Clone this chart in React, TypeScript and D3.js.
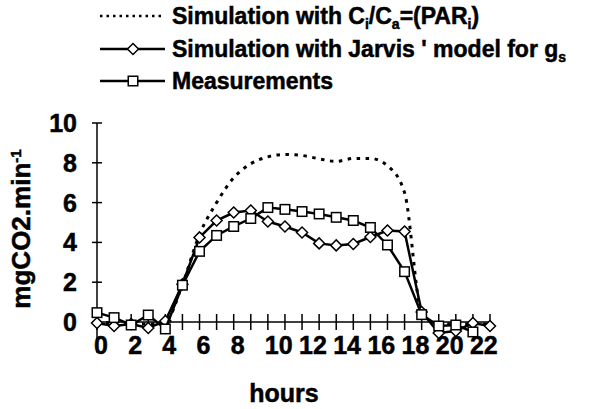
import React from "react";
import * as d3 from "d3";

const hours = d3.range(0, 24);
const xTickLabels = [0, 2, 4, 6, 8, 10, 12, 14, 16, 18, 20, 22];
const yTicks = [0, 2, 4, 6, 8, 10];

// Simulation with Ci/Ca=(PARi) (dotted)
const simCiCa = [0, -0.05, -0.1, -0.1, 0, 1.9, 4.4, 6.0, 7.25, 7.95, 8.3, 8.42, 8.37, 8.2, 8.07, 8.22, 8.22, 7.85, 6.5, 0.5, -0.1, -0.1, -0.1, -0.1];
// Simulation with Jarvis' model (diamonds), hours 0..23
const simJarvis = [-0.05, -0.2, -0.1, -0.3, 0.05, 1.9, 4.25, 5.1, 5.5, 5.6, 5.05, 4.8, 4.5, 3.95, 3.85, 3.92, 4.27, 4.6, 4.55, 0.5, -0.55, -0.45, -0.05, -0.2];
// Measurements (squares), hours 0..22
const measurements = [0.47, 0.22, -0.15, 0.35, -0.35, 1.85, 3.55, 4.35, 4.8, 5.2, 5.75, 5.66, 5.55, 5.43, 5.26, 5.1, 4.75, 3.87, 2.53, 0.37, -0.2, -0.15, -0.5];

const FONT = "'Liberation Sans', Arial, Helvetica, sans-serif";

export default function App() {
  const W = 610, H = 409;
  const x = d3.scaleLinear().domain([0, 23]).range([97, 490]);
  const y = d3.scaleLinear().domain([0, 10]).range([322, 123]);

  const linePts = (vals: number[]) => vals.map((v, i) => [hours[i], v] as [number, number]);
  const straight = d3.line<[number, number]>().x(d => x(d[0])).y(d => y(d[1]));
  const smooth = d3.line<[number, number]>().x(d => x(d[0])).y(d => y(d[1])).curve(d3.curveMonotoneX);

  const diamond = (cx: number, cy: number, r: number) =>
    `M${cx},${cy - r}L${cx + r},${cy}L${cx},${cy + r}L${cx - r},${cy}Z`;

  const DR = 5.5;
  const SQ = 9.5;

  const legendX1 = 100, legendX2 = 165, legendMid = 133, legendText = 172;
  const legendRows = [16, 49, 81];
  const txtStroke = { stroke: "#000", strokeWidth: 0.5 };

  return (
    <svg width={W} height={H} style={{ display: "block", position: "absolute", left: 0, top: 0 }} fontFamily={FONT}>
      <rect x={0} y={0} width={W} height={H} fill="#fff" />

      {/* Legend */}
      <g fontWeight="bold" fontSize={23} fill="#000">
        <line x1={legendX1} x2={legendX2} y1={legendRows[0]} y2={legendRows[0]} stroke="#000" strokeWidth={2.5} strokeDasharray="2.5 4" />
        <text x={legendText} y={legendRows[0] + 8} {...txtStroke}>
          Simulation with C<tspan dy={5} fontSize={14}>i</tspan><tspan dy={-5}>/C</tspan><tspan dy={5} fontSize={14}>a</tspan><tspan dy={-5}>=(PAR</tspan><tspan dy={5} fontSize={14}>i</tspan><tspan dy={-5}>)</tspan>
        </text>

        <line x1={legendX1} x2={legendX2} y1={legendRows[1]} y2={legendRows[1]} stroke="#000" strokeWidth={2.5} />
        <path d={diamond(legendMid, legendRows[1], DR)} fill="#fff" stroke="#000" strokeWidth={1.5} />
        <text x={legendText} y={legendRows[1] + 8} {...txtStroke}>
          Simulation with Jarvis ' model for g<tspan dy={5} fontSize={14}>s</tspan>
        </text>

        <line x1={legendX1} x2={legendX2} y1={legendRows[2]} y2={legendRows[2]} stroke="#000" strokeWidth={2.5} />
        <rect x={legendMid - SQ / 2} y={legendRows[2] - SQ / 2} width={SQ} height={SQ} fill="#fff" stroke="#000" strokeWidth={1.5} />
        <text x={legendText} y={legendRows[2] + 8} {...txtStroke}>Measurements</text>
      </g>

      {/* Axes */}
      <g stroke="#000" strokeWidth={1.5}>
        <line x1={x(0)} x2={x(0)} y1={y(10)} y2={y(-1.55)} />
        {yTicks.map(t => (
          <line key={"yt" + t} x1={x(0) - 5} x2={x(0) + 5} y1={y(t)} y2={y(t)} />
        ))}
        <line x1={x(0)} x2={x(23)} y1={y(0)} y2={y(0)} />
        {hours.map(h => (
          <line key={"xt" + h} x1={x(h)} x2={x(h)} y1={y(0) - 8} y2={y(0) + 8} />
        ))}
      </g>

      <g fontWeight="bold" fontSize={25} fill="#000" {...txtStroke}>
        {yTicks.map(t => (
          <text key={"yl" + t} x={77} y={y(t) + 9} textAnchor="end">{t}</text>
        ))}
        {xTickLabels.map(t => (
          <text key={"xl" + t} x={x(t) - 3} y={354} textAnchor="start">{t}</text>
        ))}
        <text x={284} y={402} textAnchor="middle" fontSize={25}>hours</text>
        <text transform={`translate(30,229) rotate(-90)`} textAnchor="middle" fontSize={26}>
          mgCO2.min<tspan dy={-9} fontSize={15}>-1</tspan>
        </text>
      </g>

      {/* Series */}
      <path d={smooth(linePts(simCiCa)) || ""} fill="none" stroke="#000" strokeWidth={3} strokeDasharray="3.5 5.5" />

      <path d={straight(linePts(simJarvis)) || ""} fill="none" stroke="#000" strokeWidth={2.5} />
      {simJarvis.map((v, i) => (
        <path key={"d" + i} d={diamond(x(hours[i]), y(v), DR)} fill="#fff" stroke="#000" strokeWidth={1.5} />
      ))}

      <path d={straight(linePts(measurements)) || ""} fill="none" stroke="#000" strokeWidth={2.5} />
      {measurements.map((v, i) => (
        <rect key={"s" + i} x={x(hours[i]) - SQ / 2} y={y(v) - SQ / 2} width={SQ} height={SQ} fill="#fff" stroke="#000" strokeWidth={1.5} />
      ))}
    </svg>
  );
}
